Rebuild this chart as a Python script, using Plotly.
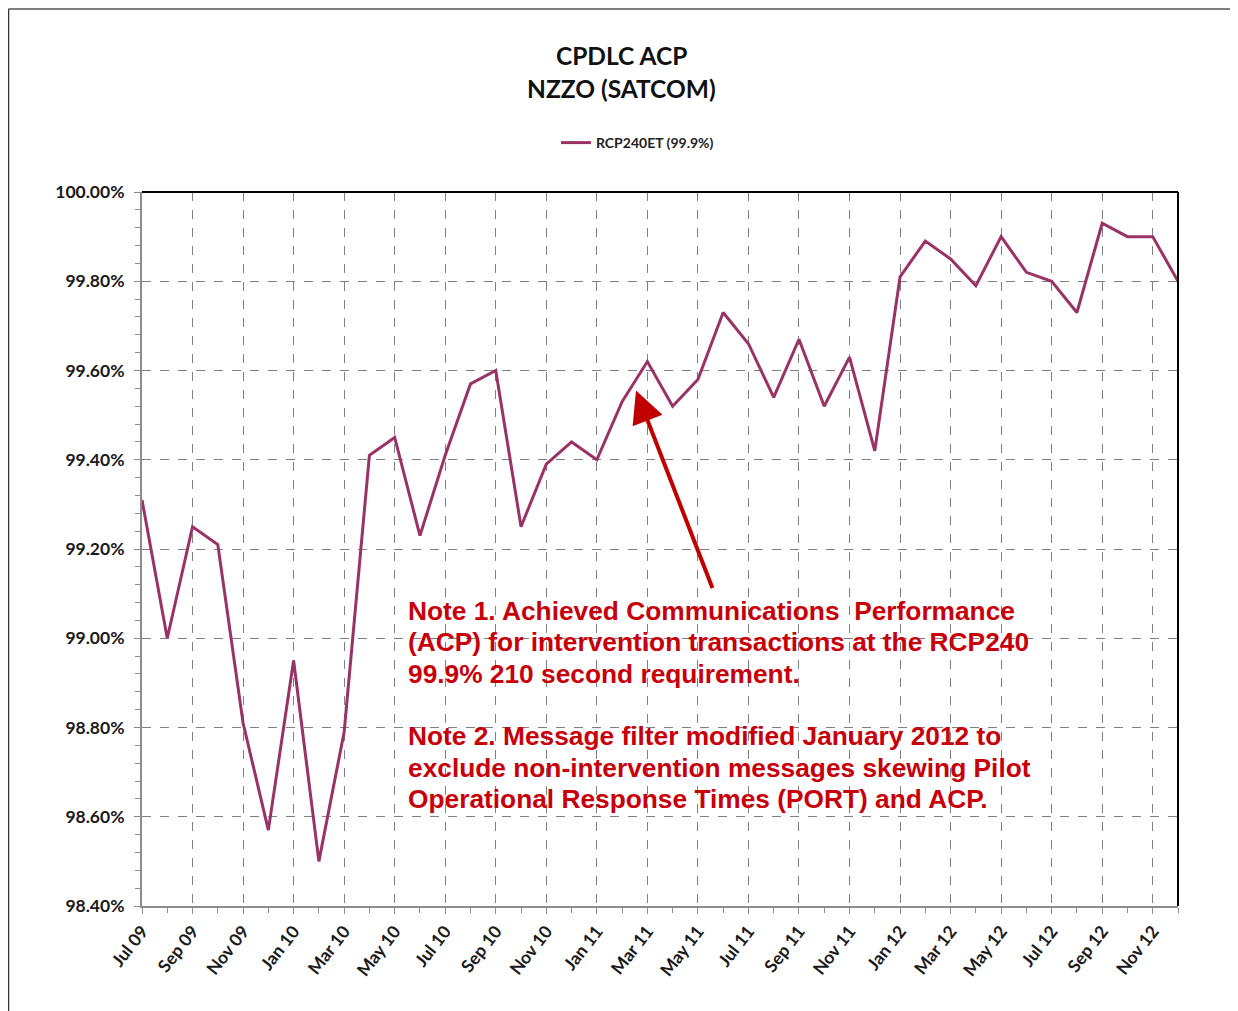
import plotly.graph_objects as go

months = ["Jul 09", "Aug 09", "Sep 09", "Oct 09", "Nov 09", "Dec 09",
          "Jan 10", "Feb 10", "Mar 10", "Apr 10", "May 10", "Jun 10",
          "Jul 10", "Aug 10", "Sep 10", "Oct 10", "Nov 10", "Dec 10",
          "Jan 11", "Feb 11", "Mar 11", "Apr 11", "May 11", "Jun 11",
          "Jul 11", "Aug 11", "Sep 11", "Oct 11", "Nov 11", "Dec 11",
          "Jan 12", "Feb 12", "Mar 12", "Apr 12", "May 12", "Jun 12",
          "Jul 12", "Aug 12", "Sep 12", "Oct 12", "Nov 12", "Dec 12"]

rcp240et = [99.31, 99.00, 99.25, 99.21, 98.81, 98.57,
            98.95, 98.50, 98.79, 99.41, 99.45, 99.23,
            99.41, 99.57, 99.60, 99.25, 99.39, 99.44,
            99.40, 99.53, 99.62, 99.52, 99.58, 99.73,
            99.66, 99.54, 99.67, 99.52, 99.63, 99.42,
            99.81, 99.89, 99.85, 99.79, 99.90, 99.82,
            99.80, 99.73, 99.93, 99.90, 99.90, 99.80]

series_name = "RCP240ET (99.9%)"
title_lines = ["CPDLC ACP", "NZZO (SATCOM)"]
note_lines = ["Note 1. Achieved Communications  Performance",
              "(ACP) for intervention transactions at the RCP240",
              "99.9% 210 second requirement.",
              "",
              "Note 2. Message filter modified January 2012 to",
              "exclude non-intervention messages skewing Pilot",
              "Operational Response Times (PORT) and ACP."]

# figure geometry (page body has an 8px margin)
W, H = 1230, 1003
L, T, PW, PH = 134, 184, 1036, 714

def px(x):  # page pixel -> paper x
    return (x - 8 - L) / PW

def py(y):  # page pixel -> paper y
    return (T + PH - (y - 8)) / PH

fig = go.Figure()
fig.add_trace(go.Scatter(x=months, y=rcp240et, mode="lines", name=series_name,
                         line=dict(color="#993366", width=3)))

axis_font = dict(family="Lato", size=17.5, color="#1a1a1a", weight="bold")

fig.update_layout(
    width=W, height=H,
    margin=dict(l=L, r=W - L - PW, t=T, b=H - T - PH, autoexpand=False),
    paper_bgcolor="white", plot_bgcolor="white",
    showlegend=True,
    legend=dict(orientation="h", x=px(556), xanchor="left", y=py(143), yanchor="middle",
                font=dict(family="Lato", size=14, color="#222222", weight="bold"),
                bgcolor="rgba(0,0,0,0)"),
    xaxis=dict(type="category", range=[0, len(months) - 1], dtick=2,
               tickangle=-52, tickfont=axis_font,
               showgrid=True, gridcolor="#808080", griddash="dash", gridwidth=1,
               showline=True, linecolor="#8c8c8c", linewidth=2,
               ticks="outside", ticklen=6, tickcolor="#8c8c8c", tickwidth=1,
               minor=dict(dtick=1, ticks="outside", ticklen=5, tickcolor="#8c8c8c", showgrid=False),
               zeroline=False),
    yaxis=dict(range=[98.4, 100.0], dtick=0.2, tick0=98.4,
               tickformat=".2f", ticksuffix="%", tickfont=axis_font,
               ticklabelstandoff=6,
               showgrid=True, gridcolor="#808080", griddash="dash", gridwidth=1,
               showline=True, linecolor="#8c8c8c", linewidth=2,
               ticks="outside", ticklen=6, tickcolor="#8c8c8c", tickwidth=1,
               minor=dict(dtick=0.04, ticks="outside", ticklen=5, tickcolor="#8c8c8c", showgrid=False),
               zeroline=False),
)

# title lines
for line, yy in zip(title_lines, [55, 88]):
    fig.add_annotation(xref="paper", yref="paper", x=px(621), y=py(yy),
                       xanchor="center", yanchor="middle", showarrow=False, text=line,
                       font=dict(family="Lato", size=24.5, color="#111111", weight="bold"))

# frame lines (top and right of plot area)
fig.add_shape(type="line", xref="paper", yref="paper", x0=0, x1=1, y0=1, y1=1,
              line=dict(color="black", width=2))
fig.add_shape(type="line", xref="paper", yref="paper", x0=1, x1=1, y0=0, y1=1,
              line=dict(color="black", width=2))
# outer chart border (left and top)
fig.add_shape(type="line", xref="paper", yref="paper", x0=px(8.5), x1=px(8.5), y0=py(1011), y1=py(9),
              line=dict(color="#333333", width=1.5))
fig.add_shape(type="line", xref="paper", yref="paper", x0=px(8.5), x1=px(1238), y0=py(9), y1=py(9),
              line=dict(color="#555555", width=1.5))

# note text, one annotation per line for tight line spacing
for i, line in enumerate(note_lines):
    if not line:
        continue
    fig.add_annotation(xref="paper", yref="paper", x=px(406), y=py(611 + 31.3 * i),
                       xanchor="left", yanchor="middle", align="left", showarrow=False,
                       text=line,
                       font=dict(family="Liberation Sans", size=26.3, color="#C8000A", weight="bold"))

# arrow pointing at the Mar 11 region
fig.add_annotation(x=19.55, y=99.555, xref="x", yref="y", ax=77, ay=199,
                   showarrow=True, arrowhead=2, arrowsize=1.6, arrowwidth=4,
                   arrowcolor="#C00000", text="")

fig.write_html("out.html")
